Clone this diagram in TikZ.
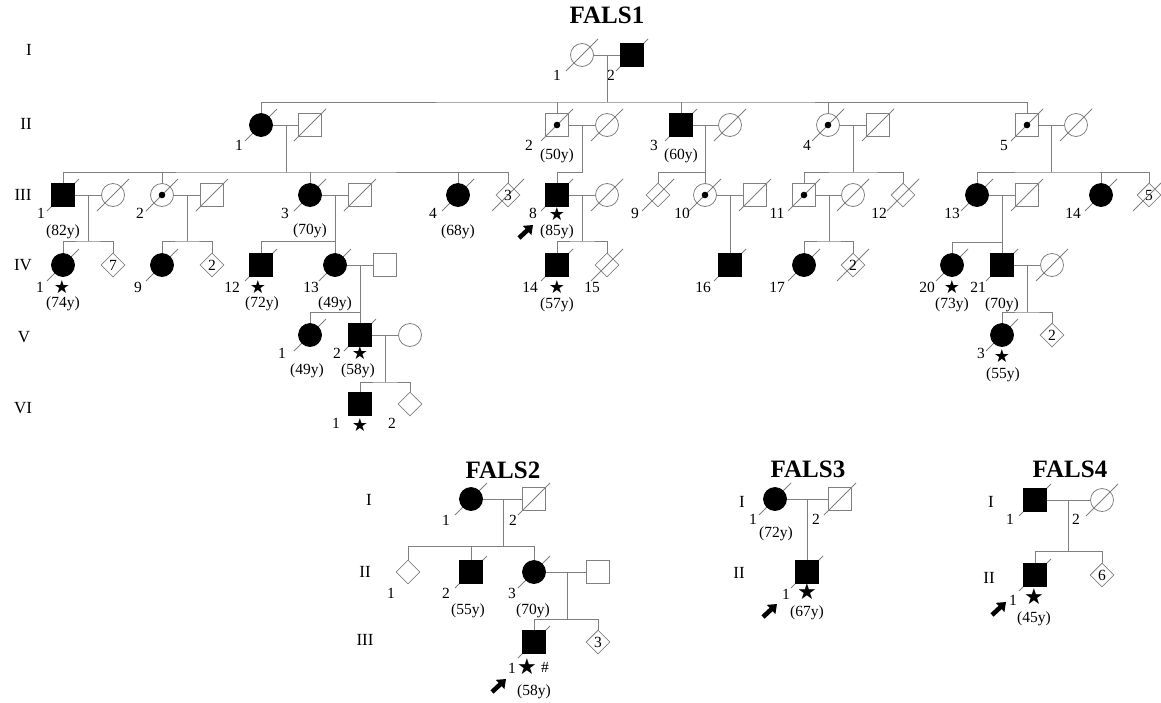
\documentclass[tikz,border=0pt]{standalone}
\usepackage{fontspec}
\setmainfont{Liberation Serif}
\newfontfamily\starfont{DejaVu Sans}
\usetikzlibrary{arrows.meta,calc,backgrounds,shapes.geometric}

\newcommand\pedlab{\fontsize{15.5}{17}\selectfont}
\newcommand\pedgen{\fontsize{17}{19}\selectfont}
\newcommand\pedtitle{\fontsize{25}{27}\selectfont\bfseries}
\newcommand\pedstar{\fontsize{18}{19}\selectfont\starfont}
\newcommand\pedbigstar{\fontsize{22}{23}\selectfont\starfont}

\begin{document}
\begin{tikzpicture}[
    x=1pt, y=-1pt,
    ind/.style={draw=gray, line width=0.8pt, minimum size=23pt, inner sep=0pt, font=\pedlab},
    male/.style={ind, rectangle},
    female/.style={ind, circle},
    sexunk/.style={ind, diamond, minimum size=24pt},
    aff/.style={fill=black, draw=black},
    carrier/.style={path picture={\fill[black] (path picture bounding box.center) circle (3.3pt);}},
    kin/.style={draw=gray, line width=0.8pt},
    slash/.style={draw=gray, line width=0.8pt},
    idlab/.style={font=\pedlab, inner sep=0pt},
    genlab/.style={font=\pedgen, inner sep=0pt},
    ttl/.style={font=\pedtitle, inner sep=0pt},
    stz/.style={font=\pedstar, inner sep=0pt},
    bigstz/.style={font=\pedbigstar, inner sep=0pt},
    proband/.style={-{Triangle[length=8pt,width=12pt]}, line width=4.6pt, black},
  ]
  \useasboundingbox (0,0) rectangle (1161,702);

  % ===================== FALS1 =====================
  \node[ttl] (t1) at (607,15) {FALS1};
  \node[genlab] (g1i)   at (29,50)  {I};
  \node[genlab] (g1ii)  at (26,124) {II};
  \node[genlab] (g1iii) at (23,195) {III};
  \node[genlab] (g1iv)  at (23,265) {IV};
  \node[genlab] (g1v)   at (24,337) {V};
  \node[genlab] (g1vi)  at (23,408) {VI};

  % --- generation I
  \node[female]     (aI1) at (582,55) {};
  \node[male,aff]   (aI2) at (632,55) {};
  \coordinate (aIm) at (607,102);
  \node[idlab] (aI1n) at (557,75) {1};
  \node[idlab] (aI2n) at (611,75) {2};

  % --- generation II
  \node[female,aff]     (aII1)  at (261,125) {};
  \node[male]           (aII1s) at (310,125) {};
  \node[male,carrier]   (aII2)  at (557,125) {};
  \node[female]         (aII2s) at (607,125) {};
  \node[male,aff]       (aII3)  at (681,125) {};
  \node[female]         (aII3s) at (730,125) {};
  \node[female,carrier] (aII4)  at (828,125) {};
  \node[male]           (aII4s) at (878,125) {};
  \node[male,carrier]   (aII5)  at (1027,125) {};
  \node[female]         (aII5s) at (1076,125) {};
  \coordinate (aII1m) at (286,172);
  \coordinate (aII2m) at (582,172);
  \coordinate (aII3m) at (705,172);
  \coordinate (aII4m) at (853,172);
  \coordinate (aII5m) at (1051,172);
  \node[idlab] (aII1n) at (239,145) {1};
  \node[idlab] (aII2n) at (529,145) {2};
  \node[idlab] (aII2y) at (557,156) {(50y)};
  \node[idlab] (aII3n) at (654,145) {3};
  \node[idlab] (aII3y) at (681,156) {(60y)};
  \node[idlab] (aII4n) at (807,145) {4};
  \node[idlab] (aII5n) at (1004,145) {5};

  % --- generation III
  \node[male,aff]       (aIII1)  at (63,195) {};
  \node[female]         (aIII1s) at (113,195) {};
  \node[female,carrier] (aIII2)  at (162,195) {};
  \node[male]           (aIII2s) at (212,195) {};
  \node[female,aff]     (aIII3)  at (310,195) {};
  \node[male]           (aIII3s) at (360,195) {};
  \node[female,aff]     (aIII4)  at (458,195) {};
  \node[sexunk]         (aIIIu3) at (508,195) {3};
  \node[male,aff]       (aIII8)  at (557,195) {};
  \node[female]         (aIII8s) at (607,195) {};
  \node[sexunk]         (aIII9)  at (658,195) {};
  \node[female,carrier] (aIII10) at (705,195) {};
  \node[male]           (aIII10s) at (755,195) {};
  \node[male,carrier]   (aIII11) at (804,195) {};
  \node[female]         (aIII11s) at (853,195) {};
  \node[sexunk]         (aIII12) at (903,195) {};
  \node[female,aff]     (aIII13) at (977,195) {};
  \node[male]           (aIII13s) at (1027,195) {};
  \node[female,aff]     (aIII14) at (1101,195) {};
  \node[sexunk]         (aIIIu5) at (1149,195) {5};
  \coordinate (aIII1m)  at (88,241);
  \coordinate (aIII2m)  at (187,241);
  \coordinate (aIII3m)  at (335,241);
  \coordinate (aIII8m)  at (582,241);
  \coordinate (aIII10m) at (730,241);
  \coordinate (aIII11m) at (829,241);
  \coordinate (aIII13m) at (1002,242);
  \node[idlab] (aIII1n)  at (41,213)  {1};
  \node[idlab] (aIII1y)  at (63,232)  {(82y)};
  \node[idlab] (aIII2n)  at (140,213) {2};
  \node[idlab] (aIII3n)  at (285,213) {3};
  \node[idlab] (aIII3y)  at (310,231) {(70y)};
  \node[idlab] (aIII4n)  at (433,213) {4};
  \node[idlab] (aIII4y)  at (458,232) {(68y)};
  \node[idlab] (aIII8n)  at (533,213) {8};
  \node[stz]   (aIII8st) at (557,214) {★};
  \node[idlab] (aIII8y)  at (557,232) {(85y)};
  \node[idlab] (aIII9n)  at (635,213) {9};
  \node[idlab] (aIII10n) at (682,213) {10};
  \node[idlab] (aIII11n) at (777,213) {11};
  \node[idlab] (aIII12n) at (879,213) {12};
  \node[idlab] (aIII13n) at (952,213) {13};
  \node[idlab] (aIII14n) at (1073,213) {14};
  \coordinate (aIII8p) at (519,238);

  % --- generation IV
  \node[female,aff] (aIV1)  at (63,265) {};
  \node[sexunk]     (aIVu7) at (113,265) {7};
  \node[female,aff] (aIV9)  at (162,265) {};
  \node[sexunk]     (aIVu2a) at (212,265) {2};
  \node[male,aff]   (aIV12) at (261,265) {};
  \node[female,aff] (aIV13) at (335,265) {};
  \node[male]       (aIV13s) at (385,265) {};
  \node[male,aff]   (aIV14) at (557,265) {};
  \node[sexunk]     (aIV15) at (607,265) {};
  \node[male,aff]   (aIV16) at (730,265) {};
  \node[female,aff] (aIV17) at (804,265) {};
  \node[sexunk]     (aIVu2b) at (853,265) {2};
  \node[female,aff] (aIV20) at (952,265) {};
  \node[male,aff]   (aIV21) at (1002,265) {};
  \node[female]     (aIV21s) at (1052,265) {};
  \coordinate (aIV13m) at (360,312);
  \coordinate (aIV21m) at (1027,312);
  \node[idlab] (aIV1n)   at (40,287)  {1};
  \node[stz]   (aIV1st)  at (62,287)  {★};
  \node[idlab] (aIV1y)   at (63,304)  {(74y)};
  \node[idlab] (aIV9n)   at (138,287) {9};
  \node[idlab] (aIV12n)  at (232,287) {12};
  \node[stz]   (aIV12st) at (258,287) {★};
  \node[idlab] (aIV12y)  at (262,304) {(72y)};
  \node[idlab] (aIV13n)  at (311,287) {13};
  \node[idlab] (aIV13y)  at (335,304) {(49y)};
  \node[idlab] (aIV14n)  at (530,287) {14};
  \node[stz]   (aIV14st) at (557,287) {★};
  \node[idlab] (aIV14y)  at (557,305) {(57y)};
  \node[idlab] (aIV15n)  at (592,287) {15};
  \node[idlab] (aIV16n)  at (703,287) {16};
  \node[idlab] (aIV17n)  at (777,287) {17};
  \node[idlab] (aIV20n)  at (927,287) {20};
  \node[stz]   (aIV20st) at (952,287) {★};
  \node[idlab] (aIV20y)  at (952,305) {(73y)};
  \node[idlab] (aIV21n)  at (978,287) {21};
  \node[idlab] (aIV21y)  at (1002,305) {(70y)};

  % --- generation V
  \node[female,aff] (aV1)  at (310,335) {};
  \node[male,aff]   (aV2)  at (360,335) {};
  \node[female]     (aV2s) at (410,335) {};
  \node[female,aff] (aV3)  at (1002,335) {};
  \node[sexunk]     (aVu2) at (1052,335) {2};
  \coordinate (aV2m) at (385,382);
  \node[idlab] (aV1n)  at (282,353) {1};
  \node[idlab] (aV1y)  at (307,371) {(49y)};
  \node[idlab] (aV2n)  at (337,353) {2};
  \node[stz]   (aV2st) at (360,353) {★};
  \node[idlab] (aV2y)  at (358,371) {(58y)};
  \node[idlab] (aV3n)  at (981,353) {3};
  \node[stz]   (aV3st) at (1002,356) {★};
  \node[idlab] (aV3y)  at (1003,375) {(55y)};

  % --- generation VI
  \node[male,aff] (aVI1) at (360,404) {};
  \node[sexunk]   (aVI2) at (410,404) {};
  \node[idlab] (aVI1n)  at (336,423) {1};
  \node[stz]   (aVI1st) at (360,425) {★};
  \node[idlab] (aVI2n)  at (392,423) {2};

  % --- FALS1 lines
  \draw[kin] (aI1) -- (aI2);
  \draw[kin] (aIm |- aI1) -- (aIm);
  \draw[kin] (aII1) |- (aIm) -| (aII5);
  \foreach \c in {aII2,aII3,aII4} \draw[kin] (\c) -- (\c |- aIm);

  \draw[kin] (aII1) -- (aII1s);
  \draw[kin] (aII1m |- aII1) -- (aII1m);
  \draw[kin] (aIII1) |- (aII1m) -| (aIIIu3);
  \foreach \c in {aIII2,aIII3,aIII4} \draw[kin] (\c) -- (\c |- aII1m);
  \draw[kin] (aII2) -- (aII2s);
  \draw[kin] (aII2m |- aII2) -- (aII2m) -| (aIII8);
  \draw[kin] (aII3) -- (aII3s);
  \draw[kin] (aII3m |- aII3) -- (aIII10);
  \draw[kin] (aIII9) |- (aII3m);
  \draw[kin] (aII4) -- (aII4s);
  \draw[kin] (aII4m |- aII4) -- (aII4m);
  \draw[kin] (aIII11) |- (aII4m) -| (aIII12);
  \draw[kin] (aII5) -- (aII5s);
  \draw[kin] (aII5m |- aII5) -- (aII5m);
  \draw[kin] (aIII13) |- (aII5m) -| (aIIIu5);
  \draw[kin] (aIII14) -- (aIII14 |- aII5m);

  \draw[kin] (aIII1) -- (aIII1s);
  \draw[kin] (aIII1m |- aIII1) -- (aIII1m);
  \draw[kin] (aIV1) |- (aIII1m) -| (aIVu7);
  \draw[kin] (aIII2) -- (aIII2s);
  \draw[kin] (aIII2m |- aIII2) -- (aIII2m);
  \draw[kin] (aIV9) |- (aIII2m) -| (aIVu2a);
  \draw[kin] (aIII3) -- (aIII3s);
  \draw[kin] (aIII3m |- aIII3) -- (aIV13);
  \draw[kin] (aIV12) |- (aIII3m);
  \draw[kin] (aIII8) -- (aIII8s);
  \draw[kin] (aIII8m |- aIII8) -- (aIII8m);
  \draw[kin] (aIV14) |- (aIII8m) -| (aIV15);
  \draw[kin] (aIII10) -- (aIII10s);
  \draw[kin] (aIII10m |- aIII10) -- (aIV16);
  \draw[kin] (aIII11) -- (aIII11s);
  \draw[kin] (aIII11m |- aIII11) -- (aIII11m);
  \draw[kin] (aIV17) |- (aIII11m) -| (aIVu2b);
  \draw[kin] (aIII13) -- (aIII13s);
  \draw[kin] (aIII13m |- aIII13) -- (aIV21);
  \draw[kin] (aIV20) |- (aIII13m);

  \draw[kin] (aIV13) -- (aIV13s);
  \draw[kin] (aIV13m |- aIV13) -- (aV2);
  \draw[kin] (aV1) |- (aIV13m);
  \draw[kin] (aIV21) -- (aIV21s);
  \draw[kin] (aIV21m |- aIV21) -- (aIV21m);
  \draw[kin] (aV3) |- (aIV21m) -| (aVu2);

  \draw[kin] (aV2) -- (aV2s);
  \draw[kin] (aV2m |- aV2) -- (aV2m);
  \draw[kin] (aVI1) |- (aV2m) -| (aVI2);

  \draw[proband] (aIII8p) -- ++(14,-13);

  % ===================== FALS2 =====================
  \node[ttl] (t2) at (503,470) {FALS2};
  \node[genlab] (g2i)   at (369,500) {I};
  \node[genlab] (g2ii)  at (365,572) {II};
  \node[genlab] (g2iii) at (365,640) {III};

  \node[female,aff] (bI1)  at (471,499) {};
  \node[male]       (bI2)  at (534,499) {};
  \node[sexunk]     (bII1) at (408,572) {};
  \node[male,aff]   (bII2) at (471,572) {};
  \node[female,aff] (bII3) at (534,572) {};
  \node[male]       (bII3s) at (598,572) {};
  \node[male,aff]   (bIII1) at (534,642) {};
  \node[sexunk]     (bIIIu3) at (598,642) {3};
  \coordinate (bIm)   at (503,546);
  \coordinate (bII3m) at (567,619);
  \coordinate (bIII1p) at (492,692);

  \node[idlab] (bI1n)   at (446,520) {1};
  \node[idlab] (bI2n)   at (513,520) {2};
  \node[idlab] (bII1n)  at (391,593) {1};
  \node[idlab] (bII2n)  at (446,593) {2};
  \node[idlab] (bII2y)  at (468,611) {(55y)};
  \node[idlab] (bII3n)  at (512,593) {3};
  \node[idlab] (bII3y)  at (533,611) {(70y)};
  \node[idlab] (bIII1n) at (512,668) {1};
  \node[bigstz] (bIII1st) at (527,667) {★};
  \node[idlab] (bIII1h) at (545,667) {\#};
  \node[idlab] (bIII1y) at (534,692) {(58y)};

  \draw[kin] (bI1) -- (bI2);
  \draw[kin] (bIm |- bI1) -- (bIm);
  \draw[kin] (bII1) |- (bIm) -| (bII3);
  \draw[kin] (bII2) -- (bII2 |- bIm);
  \draw[kin] (bII3) -- (bII3s);
  \draw[kin] (bII3m |- bII3) -- (bII3m);
  \draw[kin] (bIII1) |- (bII3m) -| (bIIIu3);
  \draw[proband] (bIII1p) -- ++(14,-13);

  % ===================== FALS3 =====================
  \node[ttl] (t3) at (808,469) {FALS3};
  \node[genlab] (g3i)  at (742,502) {I};
  \node[genlab] (g3ii) at (739,573) {II};

  \node[female,aff] (cI1)  at (775,499) {};
  \node[male]       (cI2)  at (840,499) {};
  \node[male,aff]   (cII1) at (807,572) {};
  \coordinate (cIm) at (807,540);
  \coordinate (cII1p) at (763,617);

  \node[idlab] (cI1n)   at (753,519) {1};
  \node[idlab] (cI1y)   at (776,534) {(72y)};
  \node[idlab] (cI2n)   at (816,519) {2};
  \node[idlab] (cII1n)  at (786,594) {1};
  \node[bigstz] (cII1st) at (807,592) {★};
  \node[idlab] (cII1y)  at (807,613) {(67y)};

  \draw[kin] (cI1) -- (cI2);
  \draw[kin] (cIm |- cI1) -- (cII1);
  \draw[proband] (cII1p) -- ++(14,-13);

  % ===================== FALS4 =====================
  \node[ttl] (t4) at (1070,469) {FALS4};
  \node[genlab] (g4i)  at (991,502) {I};
  \node[genlab] (g4ii) at (989,578) {II};

  \node[male,aff]   (dI1)  at (1035,500) {};
  \node[female]     (dI2)  at (1102,500) {};
  \node[male,aff]   (dII1) at (1035,575) {};
  \node[sexunk]     (dIIu6) at (1102,575) {6};
  \coordinate (dIm) at (1068,551);
  \coordinate (dII1p) at (992,615);

  \node[idlab] (dI1n)   at (1010,519) {1};
  \node[idlab] (dI2n)   at (1076,519) {2};
  \node[idlab] (dII1n)  at (1013,600) {1};
  \node[bigstz] (dII1st) at (1034,597) {★};
  \node[idlab] (dII1y)  at (1034,619) {(45y)};

  \draw[kin] (dI1) -- (dI2);
  \draw[kin] (dIm |- dI1) -- (dIm);
  \draw[kin] (dII1) |- (dIm) -| (dIIu6);
  \draw[proband] (dII1p) -- ++(14,-13);

  % --- deceased slashes, behind the symbols
  \begin{scope}[on background layer]
    \foreach \p in {aI1,aI2,aII1,aII1s,aII2,aII2s,aII3,aII3s,aII4,aII4s,aII5,aII5s,
        aIII1,aIII1s,aIII2,aIII2s,aIII3,aIII3s,aIII4,aIIIu3,aIII8,aIII8s,aIII9,
        aIII10,aIII10s,aIII11,aIII11s,aIII12,aIII13,aIII13s,aIII14,aIIIu5,
        aIV1,aIV9,aIV12,aIV13,aIV14,aIV15,aIV16,aIV17,aIVu2b,aIV20,aIV21,aIV21s,
        aV1,aV2,aV3,bI1,bI2,bII2,bII3,bIII1,cI1,cI2,cII1,dI1,dI2,dII1}
      \draw[slash] ($(\p)+(-16,16)$) -- ($(\p)+(16,-16)$);
  \end{scope}
\end{tikzpicture}
\end{document}
